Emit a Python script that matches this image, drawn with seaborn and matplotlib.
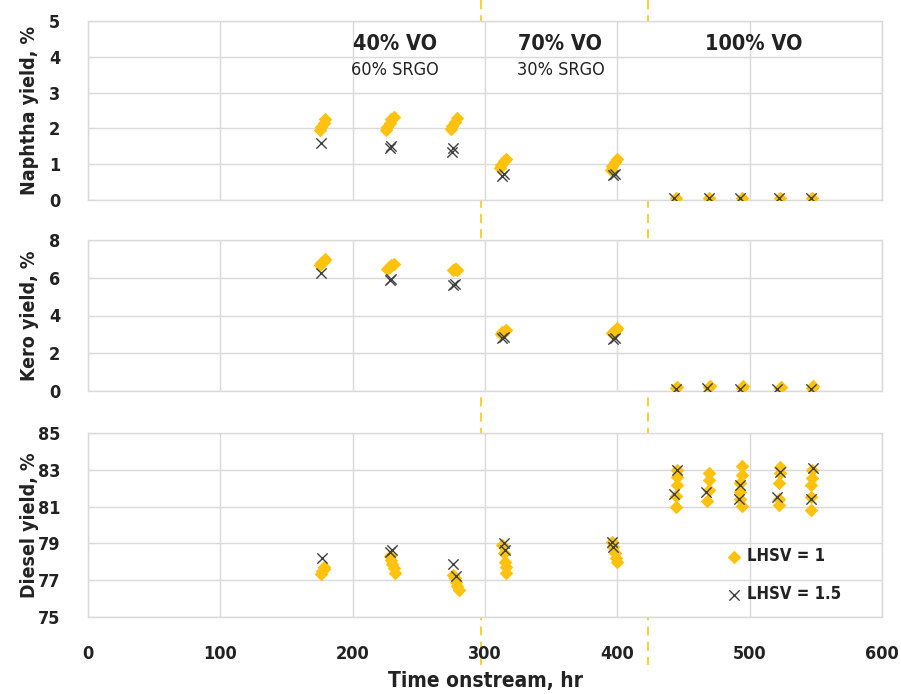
import matplotlib
matplotlib.use("Agg")
import matplotlib.pyplot as plt
from matplotlib.lines import Line2D
from matplotlib import font_manager
import seaborn as sns
import pandas as pd

# ---- data: time onstream (hr) and product yields (%) ----
naphtha_t_lhsv1 = [175, 176, 178, 179, 225, 226, 228, 229, 231, 274, 275, 277, 279,
                   311, 312, 314, 316, 395, 396, 398, 400, 444, 469, 494, 523, 547]
naphtha_y_lhsv1 = [1.95, 2.05, 2.15, 2.25, 1.95, 2.05, 2.15, 2.25, 2.33, 1.98, 2.08, 2.18, 2.28,
                   0.88, 0.98, 1.08, 1.15, 0.85, 0.95, 1.05, 1.15, 0.05, 0.05, 0.05, 0.05, 0.05]
naphtha_t_lhsv15 = [176, 228, 229, 275, 276, 313, 314, 397, 398, 443, 469, 493, 522, 546]
naphtha_y_lhsv15 = [1.6, 1.45, 1.52, 1.33, 1.45, 0.68, 0.72, 0.7, 0.73, 0.05, 0.05, 0.05, 0.05, 0.05]

kero_t_lhsv1 = [175, 176, 178, 179, 226, 228, 229, 231, 276, 277, 278, 279,
                312, 313, 315, 316, 396, 397, 399, 400,
                444, 445, 469, 470, 494, 495, 523, 524, 547, 548]
kero_y_lhsv1 = [6.65, 6.8, 6.9, 7.0, 6.45, 6.55, 6.65, 6.75, 6.4, 6.45, 6.45, 6.4,
                3.0, 3.1, 3.2, 3.25, 3.05, 3.15, 3.25, 3.35,
                0.15, 0.2, 0.2, 0.25, 0.15, 0.25, 0.15, 0.2, 0.15, 0.25]
kero_t_lhsv15 = [176, 228, 229, 276, 277, 313, 314, 397, 398, 444, 468, 493, 521, 546]
kero_y_lhsv15 = [6.25, 5.9, 5.95, 5.6, 5.65, 2.8, 2.85, 2.75, 2.8, 0.1, 0.15, 0.1, 0.1, 0.1]

diesel_t_lhsv1 = [176, 177, 178, 178, 228, 229, 230, 231, 232, 276, 277, 278, 279, 280,
                  313, 314, 315, 316, 316, 396, 397, 398, 399, 400,
                  445, 445, 445, 444, 444, 469, 469, 469, 468,
                  494, 494, 493, 493, 493, 494, 523, 523, 522, 522, 522,
                  547, 547, 546, 546, 546]
diesel_y_lhsv1 = [77.35, 77.5, 77.6, 77.7, 78.3, 78.1, 77.9, 77.65, 77.4, 77.3, 77.1, 76.9, 76.7, 76.45,
                  78.9, 78.5, 78.0, 77.7, 77.4, 79.1, 78.8, 78.5, 78.2, 78.0,
                  83.0, 82.6, 82.2, 81.6, 81.0, 82.8, 82.45, 81.9, 81.3,
                  83.2, 82.7, 82.3, 81.8, 81.4, 81.05, 83.15, 82.85, 82.3, 81.4, 81.1,
                  83.0, 82.55, 82.2, 81.5, 80.8]
diesel_t_lhsv15 = [177, 228, 230, 276, 278, 314, 315, 396, 397, 445, 443, 467, 493, 492,
                   523, 521, 548, 546]
diesel_y_lhsv15 = [78.2, 78.55, 78.65, 77.9, 77.25, 79.0, 78.65, 79.05, 78.8, 83.0, 81.7,
                   81.8, 82.2, 81.4, 82.9, 81.5, 83.1, 81.4]

series_labels = ["LHSV = 1", "LHSV = 1.5"]
y_titles = ["Naphtha yield, %", "Kero yield, %", "Diesel yield, %"]
y_ranges = [(0, 5, 1), (0, 8, 2), (75, 85, 2)]
x_ticks = [0, 100, 200, 300, 400, 500, 600]
feed_changes = [297, 423]
feed_titles = [("40% VO", "60% SRGO", 232), ("70% VO", "30% SRGO", 357), ("100% VO", None, 503)]

panels = [
    (naphtha_t_lhsv1, naphtha_y_lhsv1, naphtha_t_lhsv15, naphtha_y_lhsv15),
    (kero_t_lhsv1, kero_y_lhsv1, kero_t_lhsv15, kero_y_lhsv15),
    (diesel_t_lhsv1, diesel_y_lhsv1, diesel_t_lhsv15, diesel_y_lhsv15),
]

sns.set_theme(style="white")
installed = {f.name for f in font_manager.fontManager.ttflist}
narrow = [n for n in ["Liberation Sans Narrow", "DejaVu Sans"] if n in installed]
plt.rcParams["font.family"] = narrow + ["DejaVu Sans"]
plt.rcParams["font.stretch"] = "condensed"

YELLOW = "#FFC20E"
CROSS = "#404040"
GRID = "#d9d9d9"
TEXT = "#222222"

fig = plt.figure(figsize=(9.01, 6.94), dpi=100)
W, H = 901, 694
boxes = [(21, 200), (240, 391), (433, 617)]
left_px, right_px = 88, 882
axes = []
for top, bot in boxes:
    ax = fig.add_axes([left_px / W, 1 - bot / H, (right_px - left_px) / W, (bot - top) / H])
    axes.append(ax)

for i, (ax, (t1, y1, t2, y2)) in enumerate(zip(axes, panels)):
    d1 = pd.DataFrame({"time": t1, "yield": y1, "series": series_labels[0]})
    d2 = pd.DataFrame({"time": t2, "yield": y2, "series": series_labels[1]})
    sns.scatterplot(data=d1, x="time", y="yield", ax=ax, marker="D", s=48,
                    color=YELLOW, edgecolor=YELLOW, linewidth=0, label=series_labels[0], zorder=3)
    sns.scatterplot(data=d2, x="time", y="yield", ax=ax, marker="x", s=55,
                    color=CROSS, linewidth=1.0, label=series_labels[1], zorder=4)
    lo, hi, step = y_ranges[i]
    ax.set_ylim(lo, hi)
    ax.set_yticks(list(range(lo, hi + 1, step)))
    ax.set_xlim(0, 600)
    ax.set_xticks(x_ticks)
    ax.grid(True, color=GRID, linewidth=1.0)
    ax.set_axisbelow(True)
    for sp in ax.spines.values():
        sp.set_color(GRID)
        sp.set_linewidth(1.0)
    ax.tick_params(axis="y", length=0, pad=20, labelsize=13, labelcolor=TEXT)
    for lab in ax.get_yticklabels():
        lab.set_fontweight("bold")
    ax.set_ylabel(y_titles[i], fontsize=14, fontweight="bold", color=TEXT)
    ax.yaxis.set_label_coords(-0.062, 0.5)
    ax.set_xlabel("")
    if i < 2:
        ax.tick_params(axis="x", length=0, labelbottom=False)
    else:
        ax.tick_params(axis="x", length=0, pad=20, labelsize=13, labelcolor=TEXT)
        for lab in ax.get_xticklabels():
            lab.set_fontweight("bold")
        ax.set_xlabel("Time onstream, hr", fontsize=15, fontweight="bold", color=TEXT)
        ax.xaxis.set_label_coords(0.5, -0.295)
    if ax.get_legend() is not None:
        ax.get_legend().remove()

# feed composition headings
for bold_txt, sub_txt, xpos in feed_titles:
    axes[0].text(xpos, 4.36, bold_txt, ha="center", va="center", fontsize=15.5,
                 fontweight="bold", color=TEXT)
    if sub_txt:
        axes[0].text(xpos, 3.63, sub_txt, ha="center", va="center", fontsize=13, color=TEXT)

# legend inside the diesel panel
handles, labels = axes[2].get_legend_handles_labels()
leg = axes[2].legend(handles, labels, loc="lower left", bbox_to_anchor=(0.79, 0.03),
                     frameon=False, fontsize=12, handletextpad=0.2, labelspacing=1.2,
                     borderpad=0, handlelength=1.2)
for txt in leg.get_texts():
    txt.set_fontweight("bold")
    txt.set_color(TEXT)

# dashed lines marking feed changes, running through all panels
fig.canvas.draw()
for xc in feed_changes:
    xd = axes[0].transData.transform((xc, 0))[0]
    xf = fig.transFigure.inverted().transform((xd, 0))[0]
    fig.add_artist(Line2D([xf, xf], [1.0, 1 - 665 / H], transform=fig.transFigure,
                          color="#FFC000", linewidth=1.1, linestyle=(0, (6, 4)), zorder=0))

fig.savefig("out.png", dpi=100)
